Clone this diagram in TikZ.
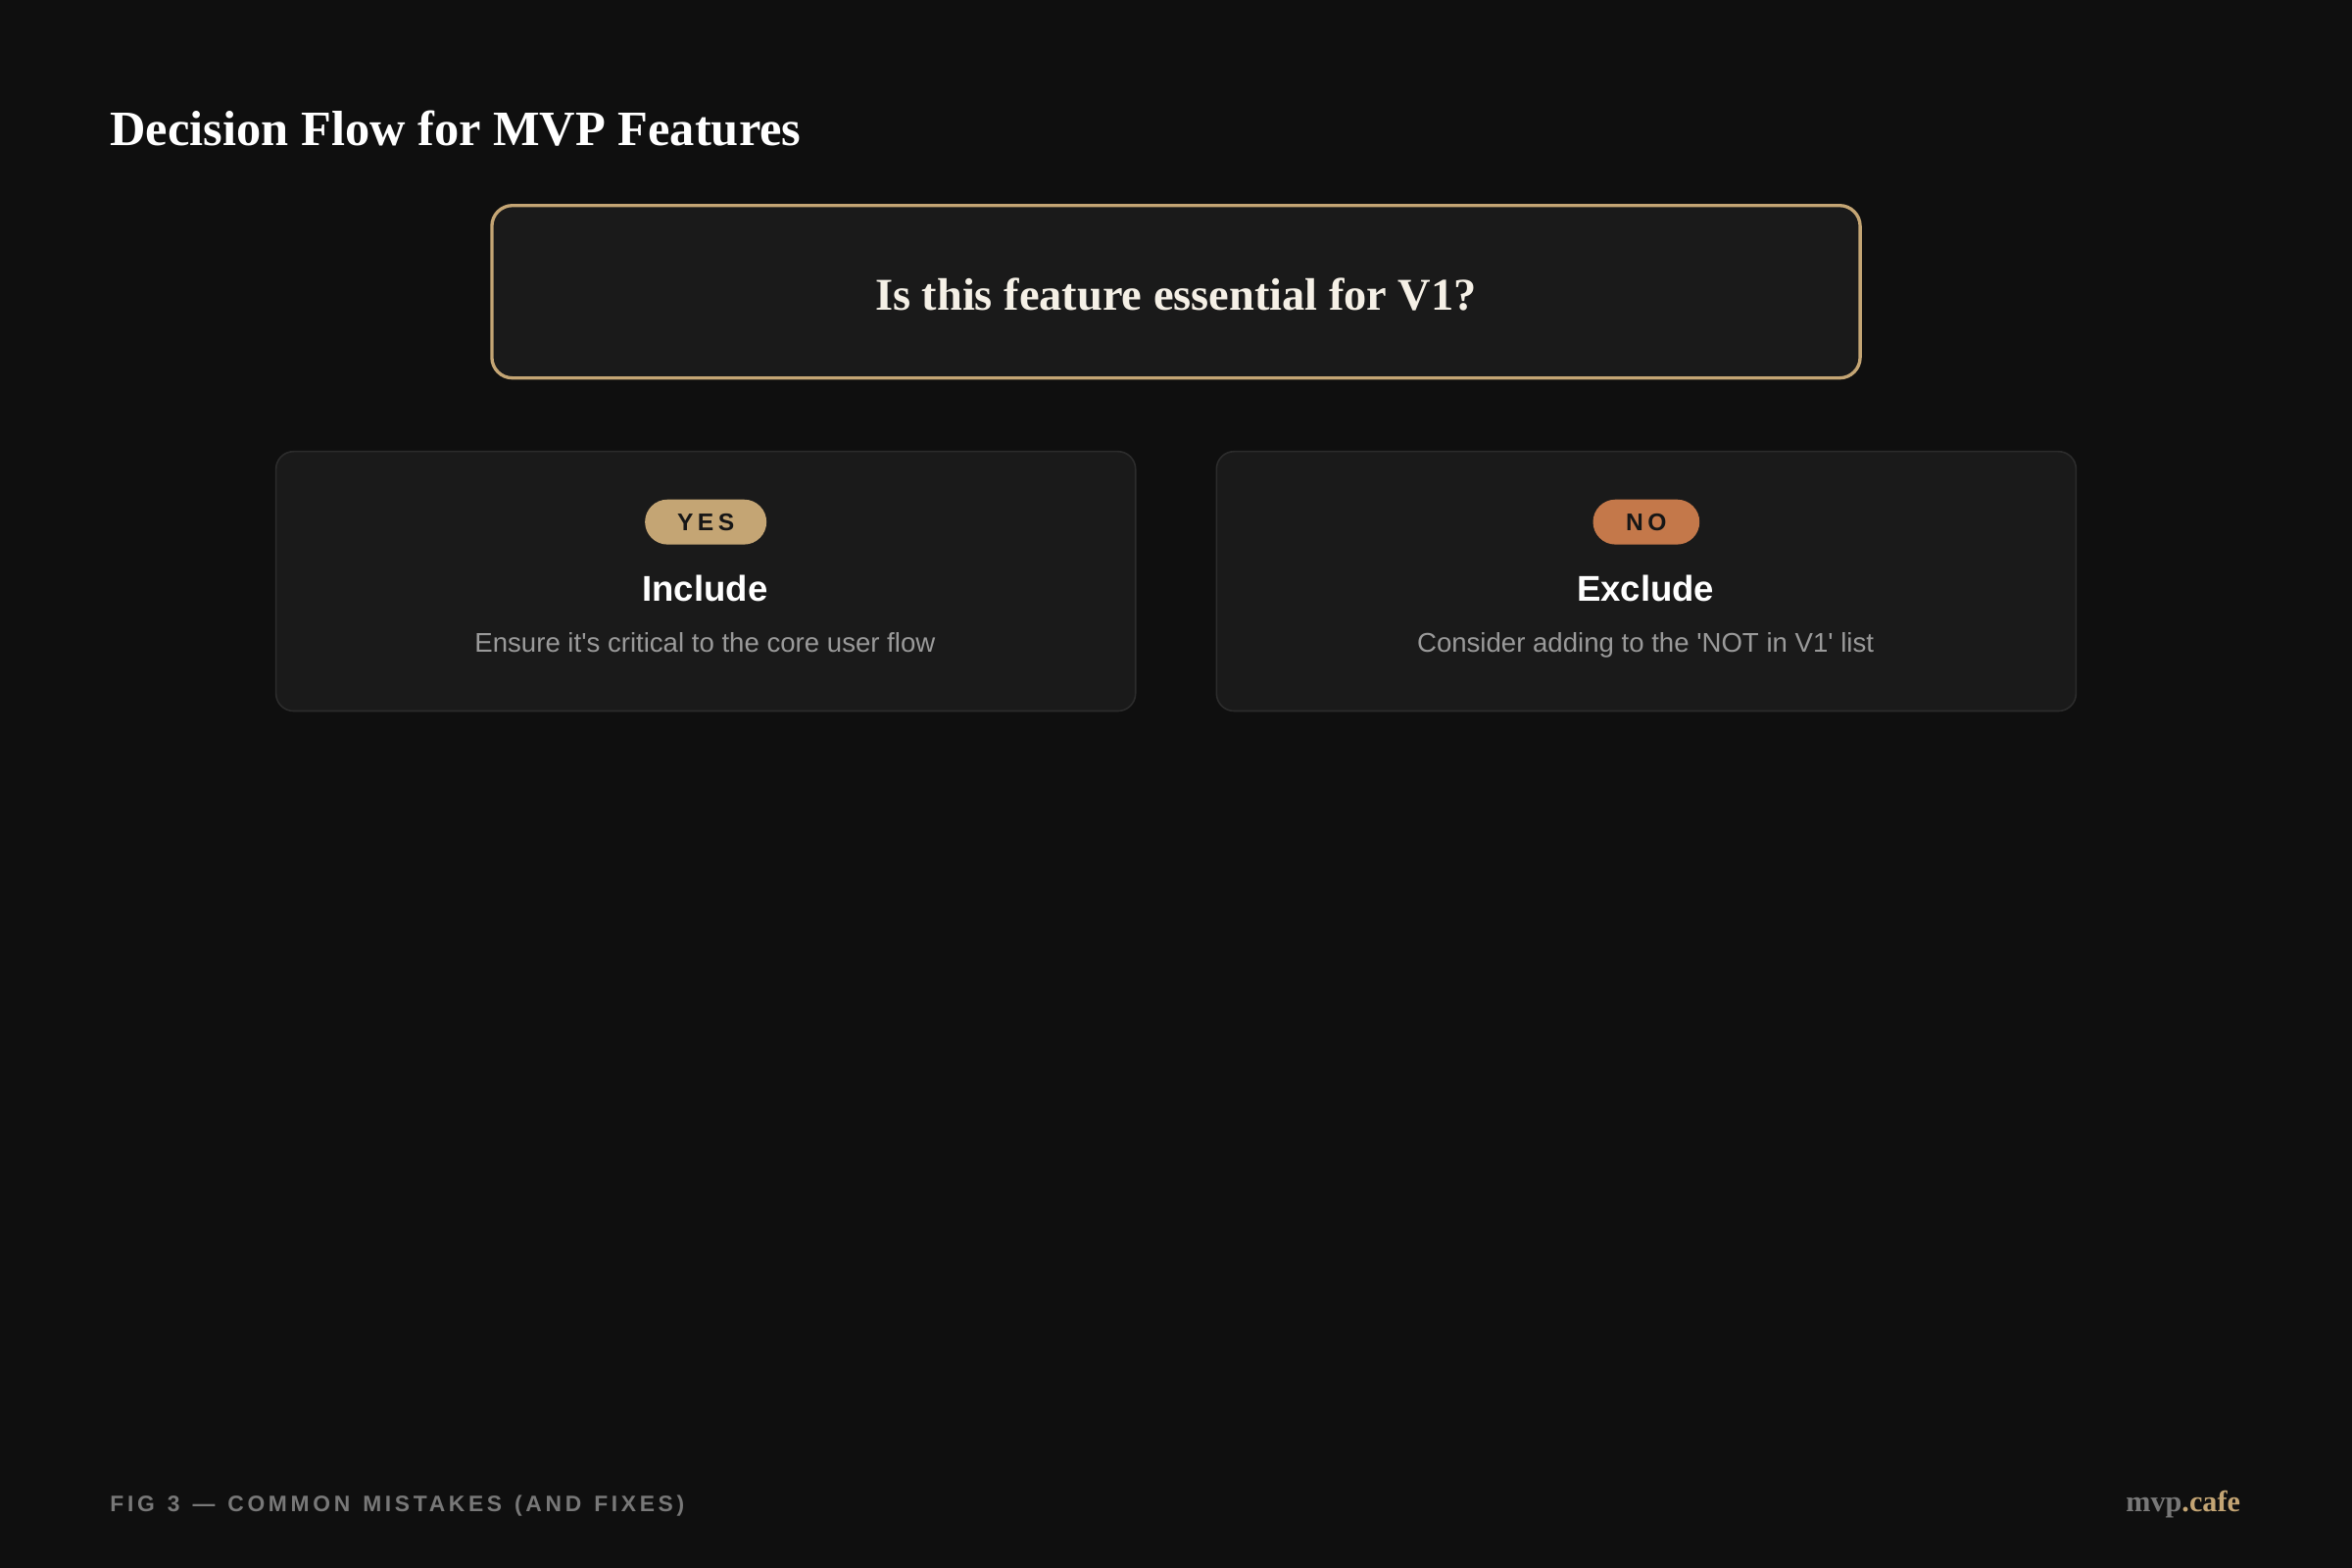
\documentclass[tikz,border=0pt]{standalone}
\usepackage{fontspec}
\setmainfont{Liberation Serif}
\setsansfont{Liberation Sans}[Ligatures=TeXOff]
\newfontfamily\trackfont[LetterSpace=16,WordSpace=1.3]{Liberation Sans}
\newfontfamily\badgefont[LetterSpace=18]{Liberation Sans}
\usepackage{tikz}
\usetikzlibrary{positioning}
\definecolor{pagebg}{HTML}{0F0F0F}
\definecolor{cardbg}{HTML}{1A1A1A}
\definecolor{cardline}{HTML}{2C2C2C}
\definecolor{gold}{HTML}{C4A574}
\definecolor{rust}{HTML}{C4784A}
\definecolor{cream}{HTML}{F5F0E6}
\definecolor{softgray}{HTML}{9A9A9A}
\definecolor{dimgray}{HTML}{787878}
\definecolor{inkdark}{HTML}{161616}

\begin{document}
\begin{tikzpicture}[x=0.015306cm,y=-0.015306cm
  ,card/.style={draw=cardline,line width=0.45pt,fill=cardbg,rounded corners=0.18cm
    ,minimum width=8.77cm,minimum height=2.648cm,inner sep=0pt}
  ,badge/.style={rounded corners=0.229cm,minimum height=0.459cm,inner sep=0pt
    ,font=\badgefont\bfseries\fontsize{7}{8}\selectfont,text=inkdark}
  ,head/.style={anchor=base,text=white,font=\sffamily\bfseries\fontsize{10.4}{12}\selectfont}
  ,note/.style={anchor=base,text=softgray,font=\sffamily\fontsize{7.85}{9}\selectfont}]
  % page
  \fill[pagebg] (0,0) rectangle (1568,1045);
  \useasboundingbox (0,0) rectangle (1568,1045);
  % title
  \node[anchor=base west,inner sep=0pt,text=white
    ,font=\bfseries\fontsize{14.35}{16}\selectfont] (title) at (73,97)
    {Decision Flow for MVP Features};
  % question
  \node[draw=gold,line width=0.95pt,fill=cardbg,rounded corners=0.21cm
    ,minimum width=13.96cm,minimum height=1.76cm] (question) at (784,194.5) {};
  \node[anchor=base,inner sep=0pt,text=cream
    ,font=\bfseries\fontsize{13.2}{15}\selectfont] (qtext) at (784,206.5)
    {Is this feature essential for V1?};
  % yes branch
  \node[card] (yescard) at (470.5,387.5) {};
  \node[badge,fill=gold,minimum width=1.24cm] (yes) at (470.5,348) {YES};
  \node[head] (include) at (470,400.6) {Include};
  \node[note] (includenote) at (470,435) {Ensure it's critical to the core user flow};
  % no branch
  \node[card] (nocard) at (1097.5,387.5) {};
  \node[badge,fill=rust,minimum width=1.087cm] (no) at (1097.5,348) {NO};
  \node[head] (exclude) at (1097,400.6) {Exclude};
  \node[note] (excludenote) at (1097,435) {Consider adding to the 'NOT in V1' list};
  % footer
  \node[anchor=base west,inner sep=0pt,text=dimgray
    ,font=\trackfont\bfseries\fontsize{6.5}{7}\selectfont] (figlabel) at (73,1007.6)
    {FIG 3 — COMMON MISTAKES (AND FIXES)};
  \node[anchor=base east,inner sep=0pt
    ,font=\bfseries\fontsize{8.6}{10}\selectfont] (brand) at (1494,1008)
    {\textcolor{dimgray}{mvp}\textcolor{gold}{.cafe}};
\end{tikzpicture}
\end{document}
